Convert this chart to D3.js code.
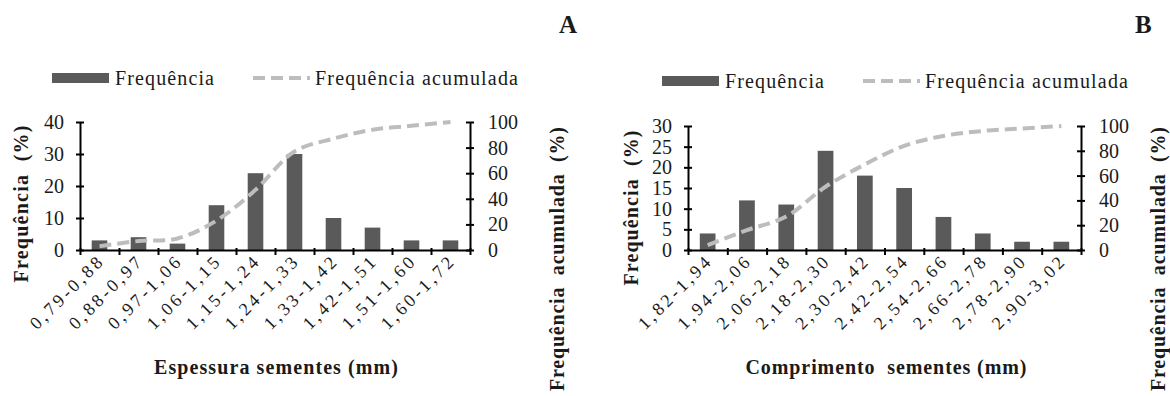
<!DOCTYPE html>
<html>
<head>
<meta charset="utf-8">
<script src="https://cdn.jsdelivr.net/npm/d3@7"></script>
<style>
    body { margin: 0; background: #fff; }
    svg text { font-family: "Liberation Serif", "Times New Roman", serif; fill: #1a1a1a; white-space: pre; }
</style>
</head>
<body>
<div class="container"><svg width="1170" height="396"></svg></div>
<script>
// class intervals and percentages
var classesA = ["0,79-0,88", "0,88-0,97", "0,97-1,06", "1,06-1,15", "1,15-1,24",
    "1,24-1,33", "1,33-1,42", "1,42-1,51", "1,51-1,60", "1,60-1,72"];
var freqA = [3, 4, 2, 14, 24, 30, 10, 7, 3, 3];
var cumA = [3, 7, 9, 23, 47, 77, 87, 94, 97, 100];

var classesB = ["1,82-1,94", "1,94-2,06", "2,06-2,18", "2,18-2,30", "2,30-2,42",
    "2,42-2,54", "2,54-2,66", "2,66-2,78", "2,78-2,90", "2,90-3,02"];
var freqB = [4, 12, 11, 24, 18, 15, 8, 4, 2, 2];
var cumB = [4, 16, 27, 51, 69, 84, 92, 96, 98, 100];

var ticksLeftA = [0, 10, 20, 30, 40];
var ticksLeftB = [0, 5, 10, 15, 20, 25, 30];
var ticksRight = [0, 20, 40, 60, 80, 100];

var barColor = "#5a5a5a";
var lineColor = "#bdbdbd";

var svg = d3.select(".container").select("svg");

// cross style tick marks like the original spreadsheet chart
function crossTicks(g) {
    g.selectAll(".tick line").remove();
    g.selectAll(".tick").append("line")
        .attr("stroke", "#000").attr("stroke-width", 2)
        .attr("x1", -4).attr("x2", 4);
    g.select(".domain").attr("stroke", "#000").attr("stroke-width", 2);
    g.selectAll("text").attr("font-size", 20).attr("font-family", null);
}

function drawPanel(p) {
    var x = d3.scaleBand().domain(p.classes).range([p.left, p.right]).padding(0);
    var y = d3.scaleLinear().domain([0, p.maxLeft]).range([p.bottom, p.top]);
    var y2 = d3.scaleLinear().domain([0, 100]).range([p.bottom, p.top]);
    var bw = x.bandwidth();

    // bars
    svg.append("g")
        .selectAll("rect")
        .data(p.freq)
        .enter().append("rect")
        .attr("x", function (d, i) { return x(p.classes[i]) + bw * 0.3; })
        .attr("width", bw * 0.4)
        .attr("y", function (d) { return y(d); })
        .attr("height", function (d) { return p.bottom - y(d); })
        .attr("fill", barColor);

    // smoothed cumulative line
    var line = d3.line()
        .x(function (d, i) { return x(p.classes[i]) + bw / 2; })
        .y(function (d) { return y2(d); })
        .curve(d3.curveCatmullRom.alpha(0.5));
    svg.append("path")
        .datum(p.cum)
        .attr("d", line)
        .attr("fill", "none")
        .attr("stroke", lineColor)
        .attr("stroke-width", 4)
        .attr("stroke-dasharray", "12,6");

    // axes
    var gl = svg.append("g")
        .attr("transform", "translate(" + p.left + ",0)")
        .call(d3.axisLeft(y).tickValues(p.leftTicks).tickSize(0).tickPadding(16));
    crossTicks(gl);
    var gr = svg.append("g")
        .attr("transform", "translate(" + p.right + ",0)")
        .call(d3.axisRight(y2).tickValues(ticksRight).tickSize(0).tickPadding(18));
    crossTicks(gr);

    // x axis, ticks at the band edges
    var xe = d3.scaleLinear().domain([0, p.classes.length]).range([p.left, p.right]);
    var gx = svg.append("g")
        .attr("transform", "translate(0," + p.bottom + ")")
        .call(d3.axisBottom(xe).ticks(p.classes.length).tickSize(0).tickFormat(""));
    gx.selectAll(".tick line").remove();
    gx.selectAll(".tick").append("line")
        .attr("stroke", "#000").attr("stroke-width", 2)
        .attr("y1", -2).attr("y2", 5);
    gx.select(".domain").attr("stroke", "#000").attr("stroke-width", 2);

    // rotated category labels
    svg.append("g")
        .selectAll("text")
        .data(p.classes)
        .enter().append("text")
        .attr("transform", function (d) {
            return "translate(" + (x(d) + bw / 2 + 4) + "," + (p.bottom + 14) + ") rotate(-45)";
        })
        .attr("text-anchor", "end")
        .attr("font-size", 18)
        .attr("textLength", 94)
        .attr("lengthAdjust", "spacing")
        .text(function (d) { return d; });

    // axis titles
    svg.append("text")
        .attr("x", p.titleX).attr("y", 374)
        .attr("text-anchor", "middle")
        .attr("font-size", 20).attr("font-weight", "bold")
        .attr("textLength", p.titleLen).attr("lengthAdjust", "spacing")
        .text(p.title);
    svg.append("text")
        .attr("transform", "translate(" + p.ylabX + "," + p.ylabY + ") rotate(-90)")
        .attr("text-anchor", "middle")
        .attr("font-size", 20).attr("font-weight", "bold")
        .attr("textLength", p.ylabLen).attr("lengthAdjust", "spacing")
        .text("Frequência  (%)");
    svg.append("text")
        .attr("transform", "translate(" + p.y2labX + ",259) rotate(-90)")
        .attr("text-anchor", "middle")
        .attr("font-size", 20).attr("font-weight", "bold")
        .attr("textLength", 264).attr("lengthAdjust", "spacing")
        .text("Frequência  acumulada  (%)");

    // legend
    var lg = svg.append("g").attr("transform", "translate(0," + p.legY + ")");
    lg.append("rect")
        .attr("x", p.legX).attr("y", -5)
        .attr("width", 57).attr("height", 10)
        .attr("fill", barColor);
    lg.append("text")
        .attr("x", p.legX + 63).attr("y", 7)
        .attr("font-size", 20)
        .attr("textLength", 99).attr("lengthAdjust", "spacing")
        .text("Frequência");
    lg.append("line")
        .attr("x1", p.legX + 201).attr("x2", p.legX + 258)
        .attr("stroke", lineColor).attr("stroke-width", 4)
        .attr("stroke-dasharray", "12,6");
    lg.append("text")
        .attr("x", p.legX + 263).attr("y", 7)
        .attr("font-size", 20)
        .attr("textLength", 203).attr("lengthAdjust", "spacing")
        .text("Frequência acumulada");

    // panel letter
    svg.append("text")
        .attr("x", p.letterX).attr("y", 33)
        .attr("font-size", 25).attr("font-weight", "bold")
        .text(p.letter);
}

drawPanel({
    classes: classesA, freq: freqA, cum: cumA, maxLeft: 40, leftTicks: ticksLeftA,
    left: 80, right: 470, top: 122, bottom: 250,
    title: "Espessura sementes (mm)", titleX: 276, titleLen: 244,
    ylabX: 28, ylabY: 204, ylabLen: 157, y2labX: 564,
    legX: 52, legY: 78, letter: "A", letterX: 559
});

drawPanel({
    classes: classesB, freq: freqB, cum: cumB, maxLeft: 30, leftTicks: ticksLeftB,
    left: 688, right: 1081, top: 126, bottom: 250,
    title: "Comprimento  sementes (mm)", titleX: 886, titleLen: 281,
    ylabX: 638, ylabY: 208, ylabLen: 155, y2labX: 1165,
    legX: 662, legY: 81, letter: "B", letterX: 1135
});
</script>
</body>
</html>
